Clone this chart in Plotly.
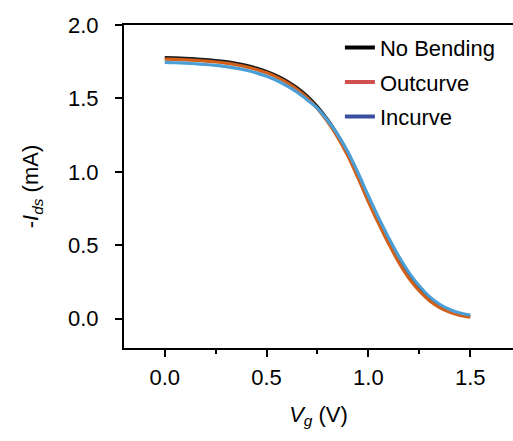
import plotly.graph_objects as go

vg = [0.00, 0.05, 0.10, 0.15, 0.20, 0.25, 0.30, 0.35, 0.40, 0.45, 0.50,
      0.55, 0.60, 0.65, 0.70, 0.75, 0.80, 0.85, 0.90, 0.95, 1.00,
      1.05, 1.10, 1.15, 1.20, 1.25, 1.30, 1.35, 1.40, 1.45, 1.50]

no_bending = [1.778, 1.776, 1.773, 1.769, 1.764, 1.758, 1.750, 1.739, 1.725, 1.707, 1.684,
              1.655, 1.618, 1.572, 1.515, 1.443, 1.355, 1.250, 1.125, 0.975, 0.815,
              0.665, 0.525, 0.395, 0.285, 0.198, 0.130, 0.082, 0.048, 0.026, 0.014]

outcurve = [1.768, 1.766, 1.763, 1.759, 1.754, 1.748, 1.740, 1.729, 1.715, 1.697, 1.674,
            1.645, 1.608, 1.561, 1.503, 1.430, 1.340, 1.233, 1.106, 0.955, 0.796,
            0.647, 0.509, 0.381, 0.273, 0.188, 0.122, 0.076, 0.044, 0.022, 0.010]

incurve = [1.745, 1.743, 1.740, 1.736, 1.731, 1.725, 1.717, 1.706, 1.692, 1.674, 1.651,
           1.622, 1.585, 1.542, 1.490, 1.432, 1.350, 1.252, 1.133, 0.990, 0.835,
           0.687, 0.550, 0.422, 0.312, 0.222, 0.150, 0.098, 0.062, 0.038, 0.025]

series_names = ["No Bending", "Outcurve", "Incurve"]
curve_colors = ["#1a1a1a", "#d2601a", "#4b9fd6"]
legend_colors = ["#000000", "#d05050", "#3a4f9f"]
series = [no_bending, outcurve, incurve]

FONT = "Arial, Liberation Sans, sans-serif"
FS = 22

fig = go.Figure()
for name, ys, c in zip(series_names, series, curve_colors):
    fig.add_trace(go.Scatter(x=vg, y=ys, mode="lines", line=dict(color=c, width=3.2, shape="spline"),
                             showlegend=False, name=name))
for name, c in zip(series_names, legend_colors):
    fig.add_trace(go.Scatter(x=[None], y=[None], mode="lines", line=dict(color=c, width=4),
                             name=name, showlegend=True, legendgroup=name))

fig.update_layout(
    width=513, height=441,
    margin=dict(l=124, r=0, t=25, b=93),
    plot_bgcolor="white", paper_bgcolor="white",
    font=dict(family=FONT, size=FS, color="black"),
    showlegend=True,
    legend=dict(x=0.555, y=0.995, xanchor="left", yanchor="top", bgcolor="rgba(0,0,0,0)",
                font=dict(size=FS), tracegroupgap=3, itemwidth=30),
    xaxis=dict(range=[-0.2, 1.71], tickvals=[0.0, 0.5, 1.0, 1.5], ticktext=["0.0", "0.5", "1.0", "1.5"],
               ticks="outside", ticklen=7, tickwidth=2, tickcolor="black",
               minor=dict(dtick=0.25, tick0=0, ticks="outside", ticklen=4, tickwidth=1.5, tickcolor="black"),
               showline=True, linecolor="black", linewidth=2, mirror=True,
               showgrid=False, zeroline=False, ticklabelstandoff=2,
               title=dict(text="<i>V</i><sub><i>g</i></sub> (V)", standoff=17, font=dict(size=FS))),
    yaxis=dict(range=[-0.2, 2.0], tickvals=[0.0, 0.5, 1.0, 1.5, 2.0], ticktext=["0.0", "0.5", "1.0", "1.5", "2.0"],
               ticks="outside", ticklen=7, tickwidth=2, tickcolor="black",
               showline=True, linecolor="black", linewidth=2,
               showgrid=False, zeroline=False, ticklabelstandoff=12,
               title=dict(text="-<i>I</i><sub><i>ds</i></sub> (mA)", standoff=23, font=dict(size=FS))),
)

fig.write_html("out.html")
